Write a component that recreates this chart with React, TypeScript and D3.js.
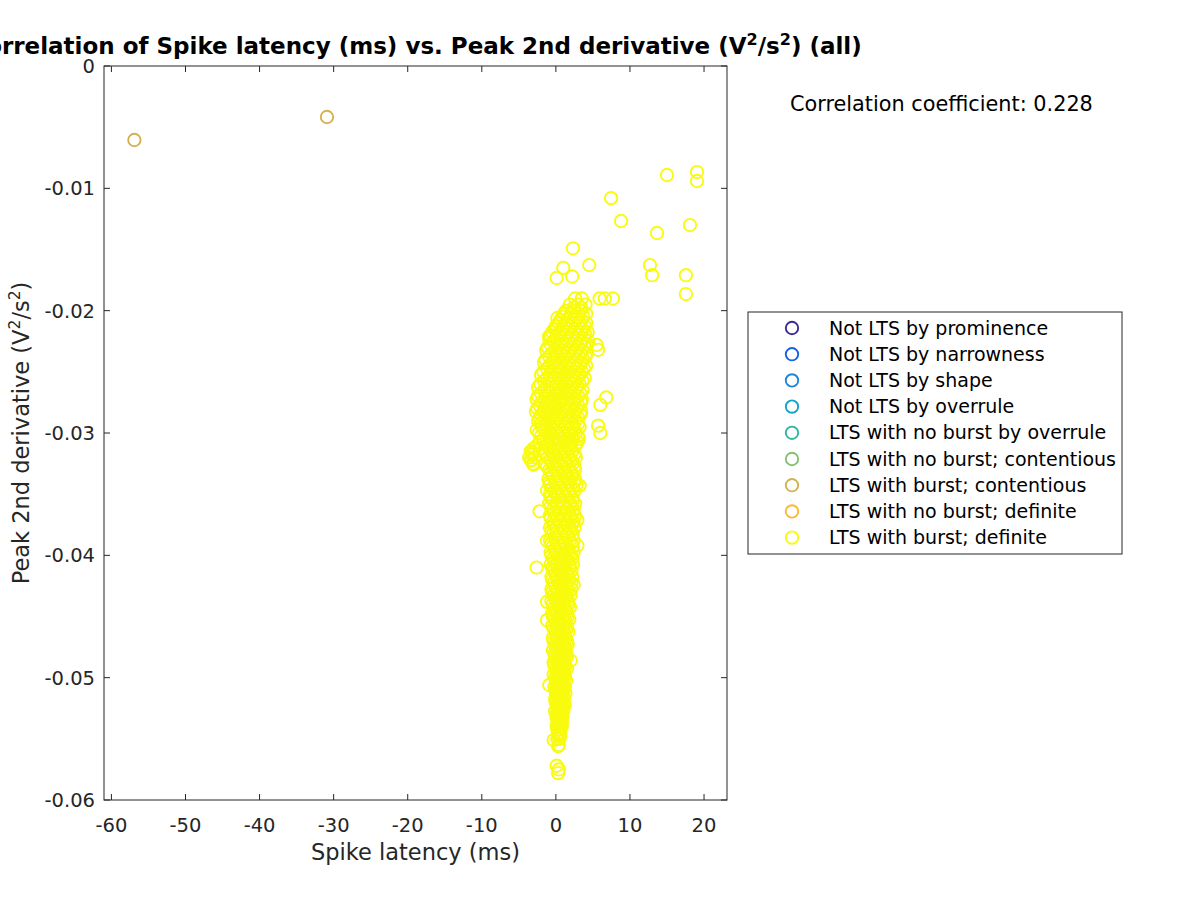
import React from "react";
import * as d3 from "d3";

// ---------- data ----------
const groupNames = [
  "Not LTS by prominence",
  "Not LTS by narrowness",
  "Not LTS by shape",
  "Not LTS by overrule",
  "LTS with no burst by overrule",
  "LTS with no burst; contentious",
  "LTS with burst; contentious",
  "LTS with no burst; definite",
  "LTS with burst; definite",
];
const groupColors = [
  "#3b2b8e",
  "#1462de",
  "#1f86d8",
  "#0ea6c9",
  "#2db79f",
  "#86bf74",
  "#d3b250",
  "#fbb938",
  "#f9fb0e",
];

// LTS with burst; contentious
const contentiousLatency = [-56.9, -30.9];
const contentiousDeriv = [-0.00605, -0.00417];

// LTS with burst; definite — scattered points
const definiteLatency = [
  7.45, 8.8, 15.0, 19.05, 19.05, 13.65, 18.1, 12.7, 13.0, 17.55, 17.55,
  2.3, 4.5, 1.0, 2.2, 0.1, 5.9, 6.6, 7.7, 0.2, -0.9, 5.5, 5.7, 6.8, 6.0, 5.7,
  6.0, -3.2, -3.4, -3.0, -2.2, -2.6, 3.2, -1.2, -1.2, 2.9, 2.9, 2.4, -1.2,
  -1.2, 2.0, -0.9, -0.3, 0.4, 0.3, 0.1, 0.4, 0.3,
];
const definiteDeriv = [
  -0.0108, -0.01267, -0.00891, -0.00867, -0.0094, -0.01365, -0.013, -0.01627,
  -0.0171, -0.0171, -0.01864, -0.0149, -0.01627, -0.0165, -0.0172, -0.01733,
  -0.019, -0.019, -0.019, -0.0206, -0.0221, -0.0228, -0.0232, -0.0271,
  -0.0277, -0.0294, -0.03, -0.0316, -0.0322, -0.0326, -0.0364, -0.041,
  -0.0343, -0.0347, -0.0388, -0.0371, -0.0392, -0.0424, -0.0438, -0.0453,
  -0.0486, -0.0506, -0.0551, -0.0555, -0.0556, -0.0572, -0.0575, -0.0578,
];

// LTS with burst; definite — dense core, rows of [derivative, latencies]
const definiteCoreRows: [number, number[]][] = [
  [-0.019, [2.6, 3.5]],
  [-0.0195, [1.9, 3.0, 4.0]],
  [-0.02, [1.4, 2.4, 3.3]],
  [-0.0205, [0.9, 1.9, 2.8, 3.7]],
  [-0.021, [0.4, 1.4, 2.3, 3.2, 4.1]],
  [-0.0215, [-0.2, 0.9, 1.8, 2.7, 3.6]],
  [-0.022, [-0.7, 0.4, 1.3, 2.2, 3.1, 4.0]],
  [-0.0225, [-0.3, 0.8, 1.7, 2.6, 3.5, 4.4]],
  [-0.023, [-1.1, 0.2, 1.2, 2.1, 3.0, 3.9]],
  [-0.0235, [-0.6, 0.6, 1.6, 2.5, 3.4, 4.2]],
  [-0.024, [-1.4, -0.2, 0.9, 1.9, 2.8, 3.7]],
  [-0.0245, [-0.9, 0.3, 1.3, 2.3, 3.2, 4.1]],
  [-0.025, [-1.7, -0.5, 0.6, 1.6, 2.6, 3.5]],
  [-0.0255, [-1.2, -0.1, 1.0, 2.0, 2.9, 3.9]],
  [-0.026, [-2.1, -0.8, 0.3, 1.3, 2.3, 3.2]],
  [-0.0265, [-1.6, -0.4, 0.7, 1.7, 2.7, 3.6]],
  [-0.027, [-2.4, -1.1, 0.0, 1.1, 2.0, 3.0]],
  [-0.0275, [-1.9, -0.7, 0.4, 1.4, 2.4, 3.4]],
  [-0.028, [-2.5, -1.3, -0.2, 0.9, 1.8, 2.8]],
  [-0.0285, [-2.0, -0.8, 0.3, 1.3, 2.3, 3.3]],
  [-0.029, [-2.4, -1.2, -0.1, 0.8, 1.8, 2.7]],
  [-0.0295, [-1.8, -0.6, 0.4, 1.3, 2.2, 3.2]],
  [-0.03, [-2.3, -1.1, 0.0, 0.9, 1.8, 2.7]],
  [-0.0305, [-1.7, -0.5, 0.5, 1.4, 2.3, 3.1]],
  [-0.031, [-2.5, -1.2, -0.1, 0.9, 1.8, 2.7]],
  [-0.0315, [-3.4, -1.7, -0.6, 0.4, 1.3, 2.2]],
  [-0.032, [-3.6, -2.8, -1.1, -0.1, 0.9, 1.8, 2.7]],
  [-0.0325, [-3.1, -1.4, -0.5, 0.5, 1.4, 2.3]],
  [-0.033, [-0.9, 0.1, 1.0, 1.9, 2.6]],
  [-0.0335, [-0.5, 0.5, 1.4, 2.3]],
  [-0.034, [-0.9, 0.0, 0.9, 1.8, 2.5]],
  [-0.0345, [-0.5, 0.5, 1.4, 2.2]],
  [-0.035, [-0.8, 0.1, 1.0, 1.9]],
  [-0.0355, [-0.4, 0.6, 1.5, 2.3]],
  [-0.036, [-0.7, 0.2, 1.1, 2.0]],
  [-0.0365, [-0.3, 0.7, 1.6, 2.3]],
  [-0.037, [-0.7, 0.2, 1.1, 2.0]],
  [-0.0375, [-0.3, 0.7, 1.6, 2.2]],
  [-0.038, [-0.6, 0.3, 1.2, 2.0]],
  [-0.0385, [-0.2, 0.8, 1.6]],
  [-0.039, [-0.6, 0.3, 1.2, 2.1]],
  [-0.0395, [-0.2, 0.8, 1.7]],
  [-0.04, [-0.6, 0.3, 1.2, 2.0]],
  [-0.0405, [-0.2, 0.7, 1.6]],
  [-0.041, [-0.5, 0.3, 1.1, 1.9]],
  [-0.0415, [-0.1, 0.7, 1.5]],
  [-0.042, [-0.5, 0.3, 1.1, 1.8]],
  [-0.0425, [-0.1, 0.7, 1.5]],
  [-0.043, [-0.5, 0.3, 1.1, 1.8]],
  [-0.0435, [-0.1, 0.7, 1.4]],
  [-0.044, [-0.4, 0.3, 1.0, 1.7]],
  [-0.0445, [0.0, 0.7, 1.4]],
  [-0.045, [-0.4, 0.3, 1.0, 1.6]],
  [-0.0455, [0.0, 0.7, 1.3]],
  [-0.046, [-0.3, 0.3, 1.0, 1.5]],
  [-0.0465, [0.0, 0.6, 1.2]],
  [-0.047, [-0.3, 0.3, 0.9, 1.5]],
  [-0.0475, [0.0, 0.6, 1.2]],
  [-0.048, [-0.2, 0.3, 0.9, 1.4]],
  [-0.0485, [0.1, 0.6, 1.1]],
  [-0.049, [-0.2, 0.4, 0.9, 1.3]],
  [-0.0495, [0.1, 0.6, 1.1]],
  [-0.05, [-0.1, 0.4, 0.9, 1.2]],
  [-0.0505, [0.1, 0.6, 1.0]],
  [-0.051, [0.0, 0.4, 0.8, 1.1]],
  [-0.0515, [0.2, 0.6, 1.0]],
  [-0.052, [0.0, 0.4, 0.8]],
  [-0.0525, [0.2, 0.6, 1.0]],
  [-0.053, [0.1, 0.5, 0.8]],
  [-0.0535, [0.3, 0.7]],
  [-0.054, [0.1, 0.5, 0.8]],
  [-0.0545, [0.3, 0.6]],
  [-0.055, [0.2, 0.5]],
];

// intermediate rows of the dense core
const definiteCoreRowsB: [number, number[]][] = [
  [-0.01975, [2.4, 3.4]],
  [-0.02025, [1.1, 2.1, 3.0, 4.1]],
  [-0.02075, [0.6, 1.6, 2.5, 3.5]],
  [-0.02125, [0.0, 1.1, 2.0, 3.0, 3.9]],
  [-0.02175, [-0.5, 0.6, 1.5, 2.5, 3.4, 4.3]],
  [-0.02225, [-0.9, 0.1, 1.1, 2.0, 2.9, 3.8]],
  [-0.02275, [-0.7, 0.5, 1.4, 2.4, 3.3, 4.2]],
  [-0.02325, [-1.3, -0.1, 0.9, 1.8, 2.7, 3.6]],
  [-0.02375, [-0.9, 0.2, 1.2, 2.2, 3.1, 4.0]],
  [-0.02425, [-1.6, -0.5, 0.6, 1.6, 2.5, 3.4]],
  [-0.02475, [-1.2, 0.0, 1.0, 2.0, 2.9, 3.8]],
  [-0.02525, [-2.0, -0.8, 0.3, 1.3, 2.3, 3.2]],
  [-0.02575, [-1.6, -0.4, 0.7, 1.7, 2.6, 3.6]],
  [-0.02625, [-2.4, -1.2, 0.0, 1.0, 2.0, 2.9]],
  [-0.02675, [-2.0, -0.8, 0.3, 1.4, 2.4, 3.3]],
  [-0.02725, [-2.6, -1.5, -0.3, 0.7, 1.6, 2.6, 3.5]],
  [-0.02775, [-2.2, -1.0, 0.1, 1.1, 2.1, 3.0]],
  [-0.02825, [-2.7, -1.6, -0.5, 0.6, 1.5, 2.5, 3.4]],
  [-0.02875, [-2.2, -1.0, 0.1, 1.1, 2.0, 3.0]],
  [-0.02925, [-2.0, -0.8, 0.2, 1.2, 2.2, 3.0]],
  [-0.02975, [-2.6, -1.4, -0.3, 0.7, 1.6, 2.5]],
  [-0.03025, [-2.0, -0.8, 0.3, 1.2, 2.2, 3.0]],
  [-0.03075, [-2.2, -0.9, 0.2, 1.1, 2.0, 2.9]],
  [-0.03125, [-3.0, -2.0, -0.9, 0.1, 1.0, 1.9]],
  [-0.03175, [-3.2, -2.2, -1.4, -0.4, 0.6, 1.5, 2.5]],
  [-0.03225, [-3.3, -0.7, 0.3, 1.2, 2.1]],
  [-0.03275, [-1.2, -0.2, 0.7, 1.7, 2.5]],
  [-0.03325, [-0.7, 0.3, 1.2, 2.1]],
  [-0.03375, [-1.0, 0.7, 1.6, 2.6]],
  [-0.03425, [-0.8, 0.2, 1.1, 2.0, 2.8]],
  [-0.03475, [-0.2, 0.8, 1.7, 2.5]],
  [-0.03525, [-0.7, 0.3, 1.3, 2.2]],
  [-0.03575, [-0.9, 0.1, 1.0, 1.9, 2.6]],
  [-0.03625, [-0.4, 0.6, 1.5, 2.4]],
  [-0.03675, [-0.8, 0.1, 1.0, 1.9, 2.6]],
  [-0.03725, [-0.4, 0.6, 1.5, 2.4]],
  [-0.03775, [-0.8, 0.1, 1.0, 1.9, 2.5]],
  [-0.03825, [-0.4, 0.6, 1.5, 2.3]],
  [-0.03875, [-0.8, 0.1, 1.0, 1.9, 2.4]],
  [-0.03925, [-0.4, 0.6, 1.5, 2.3]],
  [-0.03975, [-0.7, 0.1, 1.0, 1.8, 2.4]],
  [-0.04025, [-0.3, 0.5, 1.4, 2.2]],
  [-0.04075, [-0.7, 0.1, 0.9, 1.8, 2.3]],
  [-0.04125, [-0.3, 0.5, 1.4, 2.1]],
  [-0.04175, [-0.6, 0.1, 0.9, 1.7, 2.2]],
  [-0.04225, [-0.3, 0.5, 1.3, 2.1]],
  [-0.04275, [-0.6, 0.1, 0.9, 1.6, 2.1]],
  [-0.04325, [-0.3, 0.5, 1.3, 2.0]],
  [-0.04375, [-0.6, 0.1, 0.8, 1.6]],
  [-0.04425, [-0.2, 0.5, 1.2, 1.9]],
  [-0.04475, [-0.5, 0.1, 0.8, 1.5]],
  [-0.04525, [-0.2, 0.5, 1.2, 1.8]],
  [-0.04575, [-0.5, 0.1, 0.8, 1.4]],
  [-0.04625, [-0.1, 0.5, 1.1, 1.7]],
  [-0.04675, [-0.4, 0.1, 0.7, 1.3]],
  [-0.04725, [-0.1, 0.5, 1.1, 1.6]],
  [-0.04775, [-0.4, 0.1, 0.7, 1.3]],
  [-0.04825, [-0.1, 0.5, 1.1, 1.5]],
  [-0.04875, [-0.3, 0.2, 0.7, 1.2]],
  [-0.04925, [0.0, 0.5, 1.0, 1.5]],
  [-0.04975, [-0.3, 0.2, 0.7, 1.2]],
  [-0.05025, [0.0, 0.5, 1.0, 1.4]],
  [-0.05075, [-0.2, 0.2, 0.7, 1.2]],
  [-0.05125, [0.0, 0.5, 0.9, 1.3]],
  [-0.05175, [-0.1, 0.3, 0.7, 1.1]],
  [-0.05225, [0.1, 0.5, 0.9, 1.2]],
  [-0.05275, [-0.1, 0.3, 0.7, 1.0]],
  [-0.05325, [0.1, 0.5, 0.9]],
  [-0.05375, [0.2, 0.5, 0.8]],
  [-0.05425, [0.2, 0.5]],
  [-0.05475, [0.3, 0.6]],
];

const xTicks = [-60, -50, -40, -30, -20, -10, 0, 10, 20];
const yTicks = [0, -0.01, -0.02, -0.03, -0.04, -0.05, -0.06];
const yTickLabels = ["0", "-0.01", "-0.02", "-0.03", "-0.04", "-0.05", "-0.06"];
const correlationText = "Correlation coefficient: 0.228";

// ---------- layout ----------
const W = 1200;
const H = 900;
const plot = { left: 104, right: 727, top: 66, bottom: 800 };
const FONT = "DejaVu Sans, sans-serif";
const AX = "#262626";

export default function App() {
  const x = d3.scaleLinear().domain([-61.0, 23.1]).range([plot.left, plot.right]);
  const y = d3.scaleLinear().domain([-0.06, 0]).range([plot.bottom, plot.top]);

  const corePts: [number, number][] = [];
  definiteCoreRows.concat(definiteCoreRowsB).forEach(([d, xs]) => xs.forEach((l) => corePts.push([l, d])));
  const scatterPts: [number, number][] = definiteLatency.map((l, i) => [l, definiteDeriv[i]]);
  const contPts: [number, number][] = contentiousLatency.map((l, i) => [l, contentiousDeriv[i]]);
  const yellow = corePts.concat(scatterPts);

  const r = 6.2;
  const sw = 1.9;
  const tickLen = 6;

  const legend = { x: 748, y: 312, w: 374, h: 242 };
  const rowH = 26.2;

  return (
    <svg
      width={W}
      height={H}
      style={{ position: "absolute", left: 0, top: 0, background: "#fff" }}
      fontFamily={FONT}
    >
      <rect x={0} y={0} width={W} height={H} fill="#fff" />
      {/* axes box */}
      <rect
        x={plot.left}
        y={plot.top}
        width={plot.right - plot.left}
        height={plot.bottom - plot.top}
        fill="#fff"
        stroke={AX}
        strokeWidth={1}
      />
      {/* ticks */}
      {xTicks.map((t) => (
        <g key={"xt" + t}>
          <line x1={x(t)} x2={x(t)} y1={plot.bottom} y2={plot.bottom - tickLen} stroke={AX} />
          <line x1={x(t)} x2={x(t)} y1={plot.top} y2={plot.top + tickLen} stroke={AX} />
          <text x={x(t)} y={832} textAnchor="middle" fontSize={19.5} fill={AX}>
            {t}
          </text>
        </g>
      ))}
      {yTicks.map((t, i) => (
        <g key={"yt" + t}>
          <line x1={plot.left} x2={plot.left + tickLen} y1={y(t)} y2={y(t)} stroke={AX} />
          <line x1={plot.right} x2={plot.right - tickLen} y1={y(t)} y2={y(t)} stroke={AX} />
          <text x={95} y={y(t) + 7} textAnchor="end" fontSize={19.5} fill={AX}>
            {yTickLabels[i]}
          </text>
        </g>
      ))}
      {/* points */}
      {contPts.map(([a, b], i) => (
        <circle key={"c" + i} cx={x(a)} cy={y(b)} r={r} fill="none" stroke={groupColors[6]} strokeWidth={sw} />
      ))}
      {yellow.map(([a, b], i) => (
        <circle key={"y" + i} cx={x(a)} cy={y(b)} r={r} fill="none" stroke={groupColors[8]} strokeWidth={sw} />
      ))}
      {/* axis labels */}
      <text x={(plot.left + plot.right) / 2} y={860} textAnchor="middle" fontSize={22.5} fill={AX}>
        Spike latency (ms)
      </text>
      <text
        transform={`translate(29, ${(plot.top + plot.bottom) / 2}) rotate(-90)`}
        textAnchor="middle"
        fontSize={22.5}
        fill={AX}
      >
        Peak 2nd derivative (V<tspan fontSize={15.5} dy={-9}>2</tspan>
        <tspan dy={9}>/s</tspan>
        <tspan fontSize={15.5} dy={-9}>2</tspan>
        <tspan dy={9}>)</tspan>
      </text>
      {/* title */}
      <text
        x={(plot.left + plot.right) / 2}
        y={54}
        textAnchor="middle"
        fontSize={23}
        fontWeight="bold"
        fill="#000"
      >
        Correlation of Spike latency (ms) vs. Peak 2nd derivative (V
        <tspan fontSize={16} dy={-9}>2</tspan>
        <tspan dy={9}>/s</tspan>
        <tspan fontSize={16} dy={-9}>2</tspan>
        <tspan dy={9}>) (all)</tspan>
      </text>
      {/* correlation text */}
      <text x={790} y={111} fontSize={20.8} fill="#000">
        {correlationText}
      </text>
      {/* legend */}
      <rect x={legend.x} y={legend.y} width={legend.w} height={legend.h} fill="#fff" stroke={AX} strokeWidth={1} />
      {groupNames.map((name, i) => {
        const cy = legend.y + 16 + i * rowH;
        return (
          <g key={name}>
            <circle cx={792} cy={cy} r={r} fill="none" stroke={groupColors[i]} strokeWidth={sw} />
            <text x={829} y={cy + 6.5} fontSize={19} fill="#000">
              {name}
            </text>
          </g>
        );
      })}
    </svg>
  );
}
